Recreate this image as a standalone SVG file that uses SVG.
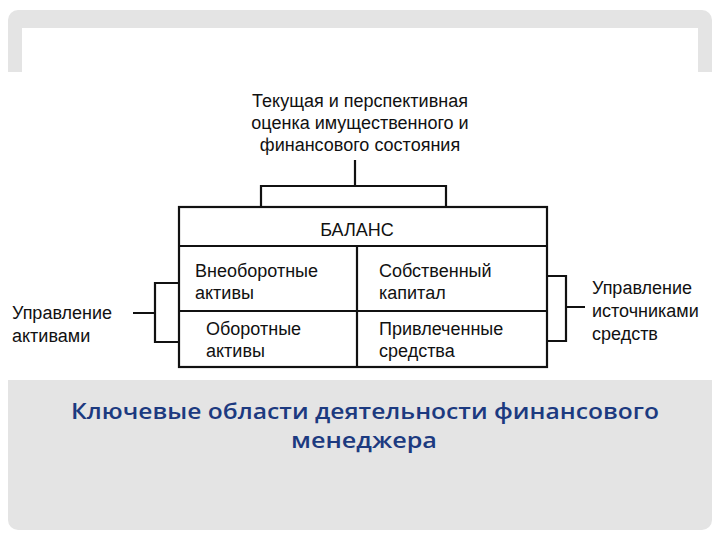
<svg xmlns="http://www.w3.org/2000/svg" width="720" height="540" viewBox="0 0 720 540">
<style>
.t{font-family:"Liberation Sans",Arial,sans-serif;font-size:18px;fill:#111}
.ln{stroke:#111;stroke-width:2.2;fill:none}
.cap{font-family:"Open Sans","DejaVu Sans",sans-serif;font-size:21px;font-weight:600;fill:#1c3a80;text-anchor:middle}
</style>
<rect x="0" y="0" width="720" height="540" fill="#fff"/>
<rect x="8" y="10" width="704" height="520" rx="10" fill="#e4e4e4"/>
<rect x="22" y="28" width="676" height="60" fill="#fff"/>
<rect x="0" y="72" width="720" height="308" fill="#fff"/>
<g id="title">
<text class="t" text-anchor="middle" x="360" y="107">Текущая и перспективная</text>
<text class="t" text-anchor="middle" x="360" y="129">оценка имущественного и</text>
<text class="t" text-anchor="middle" x="360" y="151">финансового состояния</text>
</g>
<g id="connectors">
<path class="ln" d="M355 160V186M261 207V186H446V207"/>
<path class="ln" d="M179 283H155V342H179M133 313H155"/>
<path class="ln" d="M547 276H566V341H547M566 307H585"/>
</g>
<g id="balance">
<rect class="ln" x="179" y="207" width="368" height="160"/>
<path class="ln" d="M179 246H547M179 311H547M357 246V367"/>
<text class="t" text-anchor="middle" x="357" y="236">БАЛАНС</text>
</g>
<g id="a1"><text class="t" x="195" y="277">Внеоборотные</text><text class="t" x="195" y="299">активы</text></g>
<g id="a2"><text class="t" x="206" y="335">Оборотные</text><text class="t" x="206" y="357">активы</text></g>
<g id="p1"><text class="t" x="379" y="277">Собственный</text><text class="t" x="379" y="299">капитал</text></g>
<g id="p2"><text class="t" x="379" y="335">Привлеченные</text><text class="t" x="379" y="357">средства</text></g>
<g id="left"><text class="t" x="12" y="319">Управление</text><text class="t" x="12" y="342">активами</text></g>
<g id="right"><text class="t" x="592" y="294">Управление</text><text class="t" x="592" y="317">источниками</text><text class="t" x="592" y="340">средств</text></g>
<g id="caption">
<text class="cap" x="365" y="419" textLength="588" lengthAdjust="spacingAndGlyphs">Ключевые области деятельности  финансового</text>
<text class="cap" x="364" y="448" textLength="146" lengthAdjust="spacingAndGlyphs">менеджера</text>
</g>
</svg>
